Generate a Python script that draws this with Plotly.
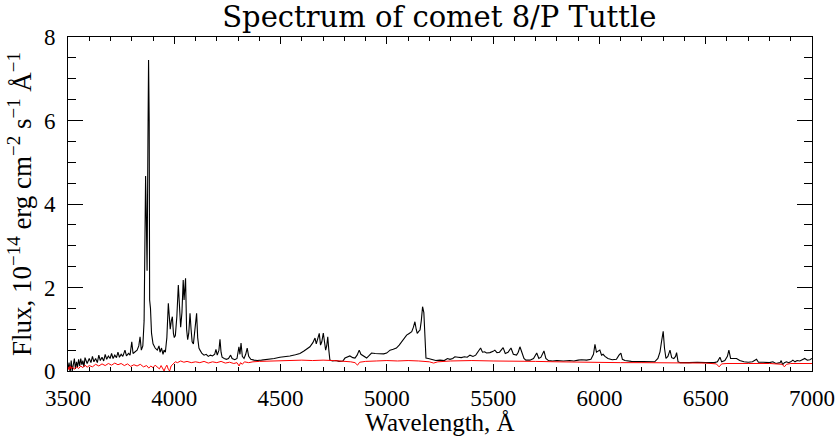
import plotly.graph_objects as go

# Black spectrum (comet), wavelength in Angstrom, flux in 1e-14 erg/cm2/s/A
wl_black = [3500, 3505, 3510, 3515, 3520, 3525, 3530, 3535, 3540, 3545, 3550, 3555, 3560, 3565, 3570, 3575, 3580, 3590,
            3600, 3608, 3615, 3622, 3630, 3638, 3645, 3652, 3660, 3668, 3675, 3682, 3690, 3698, 3705, 3712, 3720, 3728,
            3735, 3742, 3750, 3758, 3768, 3775, 3785, 3792, 3800, 3806, 3815, 3825, 3833, 3839, 3845, 3852, 3858, 3862,
            3865, 3868, 3872, 3876, 3879, 3882, 3884, 3888, 3893, 3900, 3910, 3920, 3928, 3933, 3940, 3947, 3952, 3958,
            3965, 3972, 3977, 3981, 3986, 3991, 3996, 4000, 4005, 4012, 4019, 4025, 4030, 4036, 4042, 4046, 4050, 4053,
            4058, 4063, 4068, 4074, 4079, 4084, 4090, 4095, 4100, 4105, 4110, 4116, 4121, 4130, 4140, 4150, 4160, 4170,
            4180, 4190, 4196, 4202, 4210, 4215, 4220, 4225, 4235, 4245, 4255, 4265, 4272, 4285, 4295, 4304, 4309, 4314,
            4320, 4328, 4336, 4343, 4350, 4360, 4375, 4390, 4410, 4430, 4450, 4470, 4497, 4520, 4544, 4570, 4591, 4610,
            4638, 4652, 4662, 4668, 4675, 4682, 4688, 4694, 4701, 4707, 4712, 4717, 4722, 4727, 4732, 4745, 4760, 4775,
            4793, 4803, 4815, 4826, 4840, 4850, 4860, 4870, 4878, 4890, 4905, 4915, 4928, 4945, 4967, 4985, 4999, 5015,
            5030, 5045, 5058, 5070, 5082, 5093, 5105, 5117, 5125, 5132, 5138, 5143, 5150, 5156, 5162, 5168, 5174, 5178,
            5184, 5195, 5203, 5215, 5230, 5250, 5270, 5285, 5297, 5310, 5320, 5335, 5350, 5365, 5378, 5391, 5405, 5418,
            5430, 5441, 5450, 5460, 5469, 5485, 5500, 5508, 5518, 5530, 5547, 5557, 5570, 5584, 5595, 5610, 5618, 5626,
            5635, 5645, 5654, 5673, 5690, 5705, 5715, 5725, 5739, 5748, 5760, 5780, 5800, 5830, 5860, 5880, 5900, 5916,
            5940, 5960, 5972, 5979, 5986, 5993, 6002, 6010, 6017, 6026, 6040, 6060, 6080, 6092, 6101, 6108, 6120, 6150,
            6180, 6210, 6240, 6260, 6275, 6285, 6292, 6300, 6306, 6313, 6322, 6332, 6340, 6350, 6358, 6363, 6370, 6380,
            6420, 6460, 6500, 6540, 6555, 6567, 6575, 6590, 6602, 6609, 6617, 6630, 6645, 6660, 6680, 6700, 6720, 6739,
            6748, 6770, 6800, 6816, 6830, 6850, 6855, 6862, 6870, 6880, 6890, 6900, 6910, 6920, 6930, 6943, 6955, 6966,
            6978, 6990, 7000]
flux_black = [0.05, 0.20, -0.05, 0.25, 0.00, 0.15, 0.30, 0.05, 0.22, 0.10, 0.28, 0.12, 0.30, 0.15, 0.25, 0.10, 0.32, 0.18,
              0.30, 0.20, 0.35, 0.22, 0.30, 0.20, 0.38, 0.25, 0.33, 0.24, 0.40, 0.28, 0.36, 0.30, 0.42, 0.30, 0.38, 0.32,
              0.45, 0.33, 0.40, 0.35, 0.50, 0.36, 0.42, 0.38, 0.70, 0.42, 0.45, 0.50, 0.60, 0.82, 0.50, 0.60, 1.20, 3.50,
              4.67, 3.80, 2.40, 5.50, 7.45, 6.00, 1.70, 1.50, 0.90, 0.65, 0.55, 0.50, 0.60, 0.45, 0.55, 0.40, 0.50, 0.45,
              0.80, 1.62, 1.10, 1.00, 1.20, 1.30, 0.90, 0.80, 0.85, 1.30, 2.06, 1.50, 1.05, 1.40, 2.18, 1.70, 2.00, 2.22,
              1.00, 0.75, 0.90, 1.38, 1.00, 0.70, 0.65, 0.90, 1.20, 1.38, 0.80, 0.55, 0.50, 0.42, 0.38, 0.40, 0.35, 0.38,
              0.36, 0.40, 0.52, 0.38, 0.50, 0.76, 0.45, 0.33, 0.30, 0.28, 0.30, 0.38, 0.30, 0.27, 0.30, 0.58, 0.40, 0.67,
              0.35, 0.30, 0.40, 0.55, 0.35, 0.28, 0.26, 0.25, 0.26, 0.27, 0.28, 0.30, 0.33, 0.34, 0.36, 0.39, 0.42, 0.48,
              0.58, 0.68, 0.79, 0.65, 0.75, 0.90, 0.62, 0.70, 0.91, 0.65, 0.50, 0.60, 0.82, 0.50, 0.26, 0.24, 0.25, 0.23,
              0.24, 0.31, 0.33, 0.36, 0.32, 0.31, 0.38, 0.50, 0.40, 0.35, 0.31, 0.36, 0.43, 0.42, 0.42, 0.41, 0.43, 0.50,
              0.52, 0.55, 0.62, 0.70, 0.77, 0.86, 0.90, 0.94, 1.05, 1.18, 1.00, 0.90, 0.95, 0.98, 1.20, 1.54, 1.40, 0.80,
              0.31, 0.30, 0.29, 0.26, 0.25, 0.26, 0.25, 0.30, 0.28, 0.30, 0.34, 0.33, 0.32, 0.34, 0.33, 0.38, 0.35, 0.38,
              0.46, 0.55, 0.45, 0.46, 0.43, 0.44, 0.47, 0.50, 0.44, 0.45, 0.56, 0.42, 0.45, 0.55, 0.40, 0.38, 0.45, 0.58,
              0.45, 0.30, 0.26, 0.26, 0.30, 0.43, 0.30, 0.33, 0.48, 0.30, 0.25, 0.24, 0.25, 0.24, 0.25, 0.24, 0.26, 0.27,
              0.26, 0.28, 0.40, 0.64, 0.45, 0.48, 0.50, 0.38, 0.40, 0.35, 0.30, 0.27, 0.28, 0.38, 0.43, 0.28, 0.25, 0.23,
              0.23, 0.22, 0.22, 0.22, 0.30, 0.46, 0.70, 0.95, 0.55, 0.30, 0.35, 0.50, 0.32, 0.30, 0.35, 0.44, 0.22, 0.20,
              0.20, 0.21, 0.20, 0.20, 0.22, 0.33, 0.22, 0.25, 0.35, 0.50, 0.30, 0.30, 0.30, 0.25, 0.22, 0.21, 0.22, 0.28,
              0.21, 0.21, 0.20, 0.22, 0.18, 0.20, 0.25, 0.15, 0.20, 0.22, 0.20, 0.22, 0.26, 0.22, 0.25, 0.24, 0.28, 0.30,
              0.26, 0.27, 0.30]

# Red spectrum (background / sky)
wl_red = [3500, 3505, 3510, 3515, 3520, 3530, 3540, 3550, 3560, 3570, 3580, 3590, 3600, 3615, 3630, 3645, 3660, 3675,
          3690, 3705, 3720, 3735, 3750, 3765, 3780, 3795, 3810, 3825, 3840, 3855, 3870, 3880, 3890, 3900, 3910, 3920,
          3930, 3938, 3945, 3952, 3958, 3965, 3972, 3978, 3985, 3995, 4005, 4015, 4030, 4045, 4060, 4080, 4100, 4120,
          4140, 4160, 4180, 4200, 4220, 4240, 4260, 4280, 4295, 4305, 4312, 4320, 4330, 4350, 4370, 4400, 4450, 4500,
          4550, 4600, 4650, 4700, 4750, 4800, 4830, 4850, 4862, 4872, 4900, 4950, 5000, 5050, 5100, 5150, 5200, 5220,
          5240, 5300, 5400, 5500, 5600, 5700, 5800, 5900, 6000, 6100, 6200, 6300, 6400, 6500, 6550, 6563, 6575, 6600,
          6700, 6800, 6860, 6870, 6880, 6900, 7000]
flux_red = [0.10, 0.03, 0.12, 0.05, 0.10, 0.04, 0.10, 0.06, 0.12, 0.08, 0.14, 0.09, 0.13, 0.10, 0.16, 0.12, 0.17, 0.13,
            0.18, 0.14, 0.19, 0.15, 0.18, 0.13, 0.17, 0.11, 0.15, 0.12, 0.16, 0.10, 0.13, 0.07, 0.12, 0.08, 0.14, 0.10,
            0.05, 0.13, 0.06, 0.00, 0.08, 0.14, 0.04, 0.00, 0.12, 0.18, 0.22, 0.20, 0.24, 0.21, 0.23, 0.20, 0.22, 0.20,
            0.23, 0.19, 0.22, 0.20, 0.23, 0.19, 0.21, 0.18, 0.20, 0.12, 0.20, 0.16, 0.22, 0.20, 0.22, 0.23, 0.24, 0.25,
            0.26, 0.26, 0.25, 0.26, 0.25, 0.24, 0.22, 0.20, 0.14, 0.21, 0.23, 0.24, 0.25, 0.24, 0.25, 0.24, 0.22, 0.19,
            0.22, 0.24, 0.25, 0.24, 0.24, 0.23, 0.22, 0.21, 0.21, 0.20, 0.20, 0.20, 0.19, 0.19, 0.17, 0.10, 0.17, 0.18,
            0.18, 0.18, 0.16, 0.10, 0.16, 0.18, 0.18]

x_ticks = [3500, 4000, 4500, 5000, 5500, 6000, 6500, 7000]
y_ticks = [0, 2, 4, 6, 8]

FONT = "Liberation Serif"
TITLE_FONT = "DejaVu Serif"

fig = go.Figure()
fig.add_trace(go.Scatter(x=wl_black, y=flux_black, mode="lines",
                         line=dict(color="#000000", width=1.1), showlegend=False))
fig.add_trace(go.Scatter(x=wl_red, y=flux_red, mode="lines",
                         line=dict(color="#ff0000", width=1.0), showlegend=False))

fig.update_layout(
    width=840, height=436,
    margin=dict(l=68, r=28, t=37, b=65, autoexpand=False),
    paper_bgcolor="white", plot_bgcolor="white",
    title=dict(text="Spectrum of comet 8/P Tuttle", x=0.523, xanchor="center", xref="container",
               y=0.962, yanchor="middle", yref="container",
               font=dict(family=TITLE_FONT, size=29, color="black")),
    font=dict(family=FONT, color="black"),
)

fig.update_xaxes(
    range=[3500, 7000], tickvals=x_ticks, ticktext=[str(v) for v in x_ticks],
    ticks="inside", ticklen=7, tickwidth=1, tickcolor="black",
    minor=dict(dtick=100, ticks="inside", ticklen=4, tickwidth=1, tickcolor="black"),
    showline=True, linecolor="black", linewidth=1, mirror="ticks",
    showgrid=False, zeroline=False, automargin=False,
    ticklabelstandoff=6,
    tickfont=dict(family=FONT, size=23, color="black"),
    title=dict(text="Wavelength, Å", font=dict(family=FONT, size=25, color="black"), standoff=2),
)
fig.update_yaxes(
    range=[0, 8], tickvals=y_ticks, ticktext=[str(v) for v in y_ticks],
    ticks="inside", ticklen=15, tickwidth=1, tickcolor="black",
    minor=dict(dtick=0.5, ticks="inside", ticklen=8, tickwidth=1, tickcolor="black"),
    showline=True, linecolor="black", linewidth=1, mirror="ticks",
    showgrid=False, zeroline=False, automargin=False,
    ticklabelstandoff=7,
    tickfont=dict(family=FONT, size=23, color="black"),
    title=dict(text="Flux, 10<sup>−14</sup> erg cm<sup>−2</sup> s<sup>−1</sup> Å<sup>−1</sup>",
               font=dict(family=FONT, size=27, color="black"), standoff=4),
)

fig.write_html("out.html")
